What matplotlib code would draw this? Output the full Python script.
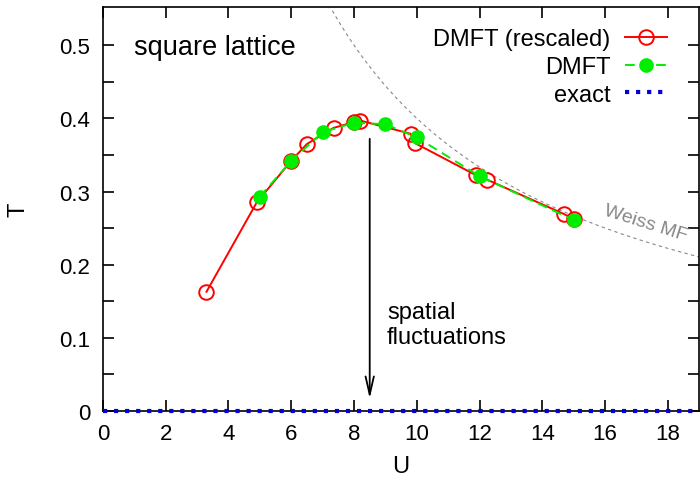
import matplotlib
matplotlib.use("Agg")
import matplotlib.pyplot as plt
import numpy as np

plt.rcParams['font.family'] = ['Liberation Sans', 'DejaVu Sans']

# DMFT (rescaled)
U_resc = [3.3, 4.9, 6.0, 6.5, 7.35, 8.0, 8.2, 9.8, 9.95, 11.9, 12.25, 14.7, 15.0]
T_resc = [0.163, 0.285, 0.342, 0.365, 0.387, 0.395, 0.397, 0.379, 0.366, 0.322, 0.316, 0.269, 0.262]

# DMFT
U_dmft = [5, 6, 7, 8, 9, 10, 12, 15]
T_dmft = [0.293, 0.342, 0.381, 0.394, 0.392, 0.374, 0.321, 0.261]

# exact (T = 0)
U_exact = [0, 19]
T_exact = [0, 0]

# Weiss mean field T = 4/U
weiss_coef = 4.0

fig = plt.figure(figsize=(7, 4.81), dpi=100)
ax = fig.add_axes([0.147, 0.1435, 0.852, 0.8395])

Uw = np.linspace(6.5, 19.5, 300)
ax.plot(Uw, weiss_coef / Uw, '--', color='#888888', lw=0.8, dashes=(3, 3))

l1, = ax.plot(U_resc, T_resc, '-', color='red', lw=1.4, marker='o', ms=10.5,
              mfc='none', mec='red', mew=1.4, label='DMFT (rescaled)')
l2, = ax.plot(U_dmft, T_dmft, '--', color='#00ee00', lw=1.4, marker='o', ms=9.5,
              mfc='#00ee00', mec='#00ee00', dashes=(5, 3), label='DMFT')
l3, = ax.plot(U_exact, T_exact, ':', color='#0000dd', lw=3, label='exact',
              clip_on=False, zorder=5)

ax.annotate('', xy=(8.5, 0.017), xytext=(8.5, 0.372),
            arrowprops=dict(arrowstyle='->,head_width=0.3,head_length=1.3',
                            color='black', lw=1.3, shrinkA=0, shrinkB=0))
ax.text(9.05, 0.151, 'spatial\nfluctuations', fontsize=17, ha='left', va='top',
        linespacing=1.2)
ax.text(1.0, 0.497, 'square lattice', fontsize=19.5, ha='left', va='center')
ax.text(17.3, 0.258, 'Weiss MF', fontsize=14, color='#888888', rotation=-17.5,
        ha='center', va='center', rotation_mode='anchor')

ax.set_xlim(0, 19)
ax.set_ylim(0, 0.552)
ax.set_xticks(np.arange(0, 19, 2))
ax.set_yticks(np.arange(0, 0.55, 0.1))
ax.set_yticklabels(['0', '0.1', '0.2', '0.3', '0.4', '0.5'])
ax.set_yticks(np.arange(0.05, 0.55, 0.1), minor=True)
ax.tick_params(which='both', direction='in', top=True, right=True, labelsize=16,
               length=8, width=1.2, pad=9)
for s in ax.spines.values():
    s.set_linewidth(1.2)
ax.set_xlabel('U', fontsize=17)
ax.set_ylabel('T', fontsize=17)
ax.xaxis.set_label_coords(0.5, -0.11)
ax.yaxis.set_label_coords(-0.123, 0.5)

ax.legend(loc='upper right', frameon=False, markerfirst=False, fontsize=17,
          handlelength=1.8, handletextpad=0.6, borderaxespad=0.0,
          labelspacing=0.25, bbox_to_anchor=(0.962, 0.972))

fig.savefig('out.png', dpi=100)
